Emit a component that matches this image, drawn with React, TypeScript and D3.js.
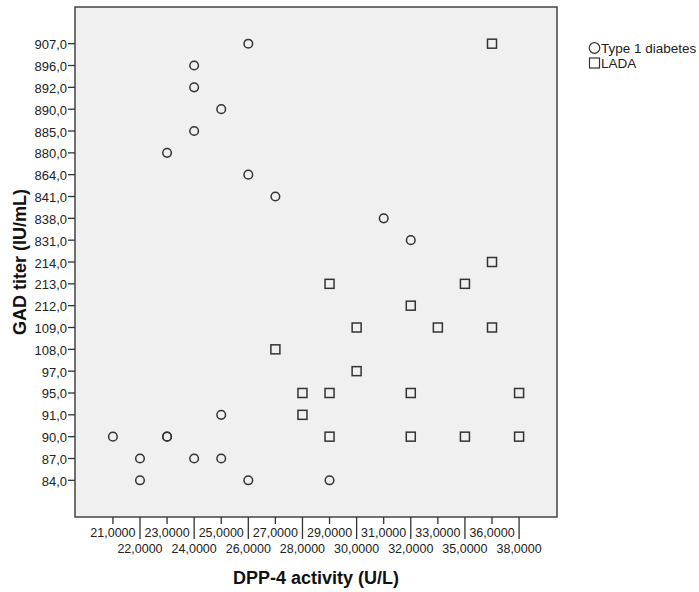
import React from "react";
import * as d3 from "d3";

const xCategories = [21, 22, 23, 24, 25, 26, 27, 28, 29, 30, 31, 32, 33, 35, 36, 38];
const yCategories = [84, 87, 90, 91, 95, 97, 108, 109, 212, 213, 214, 831, 838, 841, 864, 880, 885, 890, 892, 896, 907];

const type1X = [26, 24, 24, 25, 24, 23, 26, 27, 31, 32, 25, 21, 23, 23, 22, 24, 25, 22, 26, 29];
const type1Y = [907, 896, 892, 890, 885, 880, 864, 841, 838, 831, 91, 90, 90, 90, 87, 87, 87, 84, 84, 84];

const ladaX = [36, 36, 29, 35, 32, 30, 33, 36, 27, 30, 28, 29, 32, 38, 28, 29, 32, 35, 38];
const ladaY = [907, 214, 213, 213, 212, 109, 109, 109, 108, 97, 95, 95, 95, 95, 91, 90, 90, 90, 90];

const legendLabels = ["Type 1 diabetes", "LADA"];
const xTitle = "DPP-4 activity (U/L)";
const yTitle = "GAD titer (IU/mL)";

const W = 699;
const H = 592;
const plot = { left: 75, right: 557, top: 7, bottom: 517 };
const FONT = "'Liberation Sans', Arial, sans-serif";
const INK = "#333";

export default function App() {
  const x = d3
    .scalePoint<number>()
    .domain(xCategories)
    .range([plot.left, plot.right])
    .padding(1.4);
  const y = d3
    .scalePoint<number>()
    .domain(yCategories)
    .range([plot.bottom, plot.top])
    .padding(1.68);

  const fmtX = (v: number) => v.toFixed(4).replace(".", ",");
  const fmtY = (v: number) => v.toFixed(1).replace(".", ",");

  return (
    <svg
      width={W}
      height={H}
      style={{ position: "absolute", left: 0, top: 0, background: "#fff" }}
      fontFamily={FONT}
    >
      <rect
        x={plot.left}
        y={plot.top}
        width={plot.right - plot.left}
        height={plot.bottom - plot.top}
        fill="#f0f0f0"
        stroke="#444"
        strokeWidth={1.5}
      />
      {/* Y axis ticks */}
      {yCategories.map((v) => (
        <g key={"y" + v}>
          <line x1={plot.left - 7} x2={plot.left} y1={y(v)} y2={y(v)} stroke={INK} strokeWidth={1.3} />
          <text x={plot.left - 8} y={y(v)! + 5.5} textAnchor="end" fontSize={13} fill="#222">
            {fmtY(v)}
          </text>
        </g>
      ))}
      {/* X axis ticks */}
      {xCategories.map((v, i) => {
        const odd = i % 2 === 1;
        return (
          <g key={"x" + v}>
            <line
              x1={x(v)}
              x2={x(v)}
              y1={plot.bottom}
              y2={odd ? plot.bottom + 22 : plot.bottom + 7}
              stroke={INK}
              strokeWidth={1.3}
            />
            <text x={x(v)} y={odd ? 552.5 : 537} textAnchor="middle" fontSize={12.5} fill="#222">
              {fmtX(v)}
            </text>
          </g>
        );
      })}
      {/* LADA squares */}
      {ladaX.map((xv, i) => (
        <rect
          key={"l" + i}
          x={x(xv)! - 4.5}
          y={y(ladaY[i])! - 4.5}
          width={9}
          height={9}
          fill="none"
          stroke={INK}
          strokeWidth={1.5}
        />
      ))}
      {/* Type 1 circles */}
      {type1X.map((xv, i) => (
        <circle key={"t" + i} cx={x(xv)} cy={y(type1Y[i])} r={4.3} fill="none" stroke={INK} strokeWidth={1.5} />
      ))}
      {/* Axis titles */}
      <text x={(plot.left + plot.right) / 2} y={584} textAnchor="middle" fontSize={18} fontWeight="bold" fill="#111">
        {xTitle}
      </text>
      <text
        transform={`translate(26, ${(plot.top + plot.bottom) / 2}) rotate(-90)`}
        textAnchor="middle"
        fontSize={18}
        fontWeight="bold"
        fill="#111"
      >
        {yTitle}
      </text>
      {/* Legend */}
      <circle cx={594.5} cy={48} r={5.3} fill="none" stroke={INK} strokeWidth={1.2} />
      <text x={601} y={53} fontSize={13.5} fill="#222">
        {legendLabels[0]}
      </text>
      <rect x={589.5} y={58} width={10} height={10} fill="none" stroke={INK} strokeWidth={1.2} />
      <text x={601} y={68} fontSize={13.5} fill="#222">
        {legendLabels[1]}
      </text>
    </svg>
  );
}
